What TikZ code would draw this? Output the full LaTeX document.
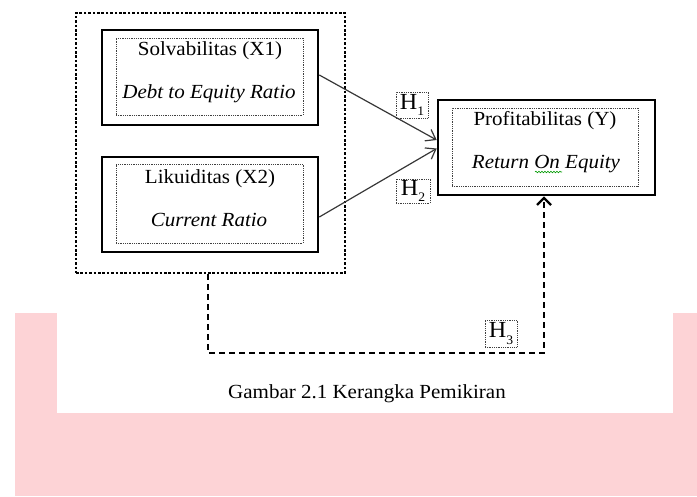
\documentclass[tikz,border=0pt]{standalone}
\usepackage{fontspec}
\setmainfont{Liberation Serif}[FakeStretch=1.05]
\usetikzlibrary{arrows.meta,decorations.pathmorphing}
\definecolor{bgpink}{RGB}{253,211,214}
\definecolor{linegray}{RGB}{55,55,55}
\begin{document}
\begin{tikzpicture}[x=1pt,y=-1pt,
  solidbox/.style={draw,line width=2.6pt,inner sep=0pt},
  dotbox/.style={draw,line width=0.8pt,dash pattern=on 0.9pt off 0.9pt,inner sep=0pt,color=black!75},
  groupbox/.style={draw,line width=2.9pt,dash pattern=on 2.6pt off 1.8pt,inner sep=0pt},
  txt/.style={inner sep=0pt,font=\fontsize{20}{24}\selectfont},
  hlab/.style={dotbox,text=black,font=\fontsize{23}{24}\selectfont,minimum width=32pt,minimum height=26pt},
  link/.style={draw=linegray,line width=1.2pt,-{Straight Barb[length=9pt,width=13pt,line width=1.2pt]}},
  dlink/.style={draw,line width=2.6pt,dash pattern=on 6pt off 4pt,-{Straight Barb[length=7pt,width=14pt,line width=2.4pt]}}
]
\useasboundingbox (0,0) rectangle (697,496);
\fill[bgpink] (15,313) rectangle (697,496);
\fill[white] (57,300) rectangle (673,413);

% outer group
\node[groupbox,minimum width=269pt,minimum height=260pt] (grp) at (210.5,143) {};

% X1
\node[solidbox,minimum width=216pt,minimum height=95pt] (x1) at (210,77.5) {};
\node[dotbox,minimum width=187pt,minimum height=77pt] (x1in) at (209.5,76.5) {};
\node[txt,anchor=base] (x1a) at (210,55) {Solvabilitas (X1)};
\node[txt,anchor=base] (x1b) at (209,98) {\itshape Debt to Equity Ratio};

% X2
\node[solidbox,minimum width=216pt,minimum height=95pt] (x2) at (210,204.5) {};
\node[dotbox,minimum width=187pt,minimum height=79pt] (x2in) at (209.5,203.5) {};
\node[txt,anchor=base] (x2a) at (210,183) {Likuiditas (X2)};
\node[txt,anchor=base] (x2b) at (209,226) {\itshape Current Ratio};

% Y
\node[solidbox,minimum width=217pt,minimum height=95pt] (y) at (546.5,147.5) {};
\node[dotbox,minimum width=186pt,minimum height=78pt] (yin) at (545,147) {};
\node[txt,anchor=base] (ya) at (545,125) {Profitabilitas (Y)};
\node[txt,anchor=base] (yb) at (546,168) {\itshape Return On Equity};
\draw[green!60!black,line width=0.6pt,decorate,decoration={snake,amplitude=0.8pt,segment length=3pt}] (535,172) -- (562,172);

% hypothesis labels
\node[hlab] (h1) at (412,105) {H\raisebox{-0.3em}{\fontsize{13}{13}\selectfont 1}\hspace{2pt}};
\node[hlab,minimum width=34pt,minimum height=24pt] (h2) at (413,191) {H\raisebox{-0.3em}{\fontsize{13}{13}\selectfont 2}\hspace{2pt}};
\node[hlab,minimum height=27pt] (h3) at (501,333.5) {H\raisebox{-0.3em}{\fontsize{13}{13}\selectfont 3}\hspace{2pt}};

% connectors
\draw[link] ([yshift=2.5pt]x1.east) -- ([yshift=7.5pt]y.west);
\draw[link] ([yshift=-12.5pt]x2.east) -- ([yshift=-1pt]y.west);
\coordinate (turn) at (0,353);
\draw[dlink] ([xshift=-2.5pt]grp.south) -- ([xshift=-2.5pt]grp.south |- turn) -| ([xshift=-2.5pt]y.south);

% caption
\node[txt,anchor=base] (cap) at (367,398) {Gambar 2.1 Kerangka Pemikiran};
\end{tikzpicture}
\end{document}
